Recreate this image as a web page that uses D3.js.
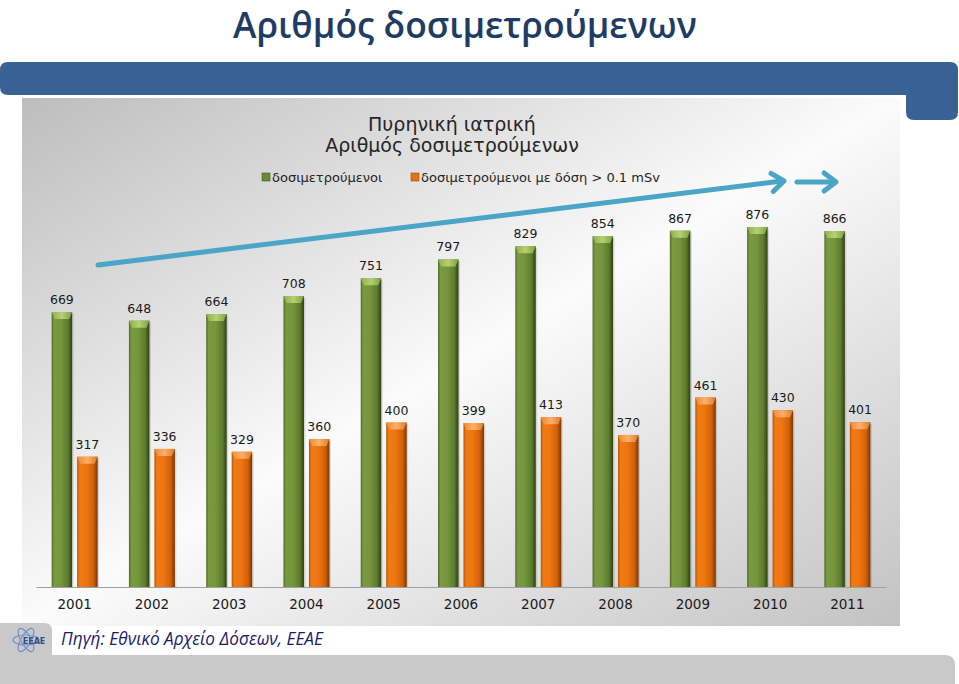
<!DOCTYPE html>
<html><head><meta charset="utf-8">
<script src="https://cdn.jsdelivr.net/npm/d3@7/dist/d3.min.js"></script>
<style>body{margin:0;background:#fff}svg{display:block}</style>
</head><body>
<svg id="c" width="959" height="684"></svg>
<script>
// ---- data ----
const years = ["2001","2002","2003","2004","2005","2006","2007","2008","2009","2010","2011"];
const measured = [669, 648, 664, 708, 751, 797, 829, 854, 867, 876, 866];
const measuredAbove01 = [317, 336, 329, 360, 400, 399, 413, 370, 461, 430, 401];
const seriesNames = ["δοσιμετρούμενοι", "δοσιμετρούμενοι με δόση > 0.1 mSv"];
const pageTitle = "Αριθμός δοσιμετρούμενων";
const chartTitle = ["Πυρηνική ιατρική", "Αριθμός δοσιμετρούμενων"];
const sourceText = "Πηγή: Εθνικό Αρχείο Δόσεων, ΕΕΑΕ";
const logoText = "ΕΕΑΕ";

const svg = d3.select("#c");
const defs = svg.append("defs");

function fitText(sel, w) {
  const cur = sel.node().getComputedTextLength();
  const fs = parseFloat(sel.attr("font-size"));
  sel.attr("font-size", (fs * w / cur).toFixed(2));
}

// header bar
svg.append("path")
  .attr("d", "M0,70 Q0,62 8,62 L950,62 Q958,62 958,70 L958,112 Q958,120 950,120 L914,120 Q906,120 906,112 L906,95 L8,95 Q0,95 0,87 Z")
  .attr("fill", "#3a6193");

// page title
const pt = svg.append("text").attr("x", 465).attr("y", 38).attr("text-anchor", "middle")
  .attr("font-family", "Open Sans").attr("font-weight", 600).attr("font-size", 34)
  .attr("fill", "#1f3c64").text(pageTitle);
fitText(pt, 464);

// chart panel
const pg = defs.append("linearGradient").attr("id", "panel").attr("x1", 0).attr("y1", 0).attr("x2", 1).attr("y2", 1);
pg.append("stop").attr("offset", 0).attr("stop-color", "#bdbdbd");
pg.append("stop").attr("offset", 0.5).attr("stop-color", "#fbfbfb");
pg.append("stop").attr("offset", 1).attr("stop-color", "#c2c2c2");
svg.append("rect").attr("x", 22).attr("y", 98).attr("width", 878).attr("height", 528).attr("fill", "url(#panel)");

// footer
svg.append("path")
  .attr("d", "M0,623 L44,623 Q52,623 52,631 L52,655 L945,655 Q955,655 955,665 L955,690 L0,690 Z")
  .attr("fill", "#c9c9c9");
// logo
const lg = svg.append("g").attr("transform", "translate(26,640)");
[0, 60, 120].forEach(a => lg.append("ellipse").attr("rx", 13).attr("ry", 5)
  .attr("transform", `rotate(${a})`).attr("fill", "none").attr("stroke", "#6f92c6").attr("stroke-width", 1.2));
lg.append("text").attr("x", 8).attr("y", 4).attr("text-anchor", "middle").attr("font-family", "DejaVu Sans")
  .attr("font-weight", "bold").attr("font-size", 8).attr("fill", "#2b4f8f").text(logoText);
const st = svg.append("text").attr("x", 61).attr("y", 645).attr("font-family", "Open Sans").attr("font-style", "italic")
  .attr("font-size", 17).attr("fill", "#1b1b6e").text(sourceText);
fitText(st, 262);

// chart title
chartTitle.forEach((t, i) => {
  svg.append("text").attr("x", 452).attr("y", 131 + i * 21).attr("text-anchor", "middle")
    .attr("font-family", "DejaVu Sans").attr("font-size", 19).attr("fill", "#262626").text(t);
});

// legend
const legendColors = ["#6b8a37", "#e27418"];
const legendX = [262, 411];
seriesNames.forEach((n, i) => {
  svg.append("rect").attr("x", legendX[i]).attr("y", 173).attr("width", 8).attr("height", 8).attr("fill", legendColors[i])
    .attr("stroke", i ? "#a04a0a" : "#44591f").attr("stroke-width", 0.6);
  svg.append("text").attr("x", legendX[i] + 10).attr("y", 182).attr("font-family", "DejaVu Sans")
    .attr("font-size", 13).attr("fill", "#262626").text(n);
});

// scales
const x = d3.scaleBand().domain(years).range([36, 886]).padding(0);
const x1 = d3.scaleBand().domain([0, 1]).range([0, x.bandwidth()]).paddingInner(0.196).paddingOuter(0.614);
const y = d3.scaleLinear().domain([0, 1000]).range([587, 176]);

// gradients for bars
function barGrad(id, stops) {
  const g = defs.append("linearGradient").attr("id", id).attr("x1", 0).attr("x2", 1).attr("y1", 0).attr("y2", 0);
  stops.forEach(s => g.append("stop").attr("offset", s[0]).attr("stop-color", s[1]));
}
barGrad("g0", [[0, "#4f6b25"], [0.12, "#7a9a40"], [0.45, "#76963d"], [0.8, "#5d7b2d"], [1, "#2e3f12"]]);
barGrad("g1", [[0, "#b35508"], [0.12, "#f07a14"], [0.45, "#ee7611"], [0.8, "#cf600a"], [1, "#7a3603"]]);
barGrad("t0", [[0, "#8fb04c"], [0.5, "#b5d170"], [1, "#7f9f42"]]);
barGrad("t1", [[0, "#f08a32"], [0.5, "#fbb06a"], [1, "#e07a22"]]);

const series = [measured, measuredAbove01];
const plot = svg.append("g");
series.forEach((vals, si) => {
  const g = plot.append("g");
  years.forEach((yr, i) => {
    const bx = x(yr) + x1(si), bw = x1.bandwidth();
    const top = y(vals[i]), bot = y(0);
    g.append("rect").attr("x", bx + 1.5).attr("y", top + 1.5).attr("width", bw).attr("height", bot - top - 1.5)
      .attr("fill", "#000").attr("opacity", 0.12);
    g.append("rect").attr("x", bx).attr("y", top).attr("width", bw).attr("height", bot - top).attr("fill", `url(#g${si})`);
    g.append("path").attr("d", `M${bx},${top} L${bx + bw},${top} L${bx + bw - 3},${top + 7} L${bx + 3},${top + 7} Z`)
      .attr("fill", `url(#t${si})`);
    g.append("text").attr("x", bx + bw / 2).attr("y", top - 8).attr("text-anchor", "middle")
      .attr("font-family", "DejaVu Sans").attr("font-size", 12.5).attr("fill", "#1a1a1a").text(vals[i]);
  });
});

// axis
const ax = svg.append("g").attr("transform", `translate(0,${y(0)})`).call(d3.axisBottom(x).tickSize(0).tickPadding(12));
ax.select(".domain").attr("stroke", "#a0a0a0").attr("stroke-width", 1.2);
ax.selectAll("text").attr("font-family", "DejaVu Sans").attr("font-size", 13.5).attr("fill", "#1a1a1a");

// trend arrows (annotation)
const arrowColor = "#4aa5c6";
function arrow(x0, y0, x1_, y1_) {
  const a = Math.atan2(y1_ - y0, x1_ - x0), L = 15, sp = 0.65;
  const g = svg.append("g").attr("fill", "none").attr("stroke", arrowColor).attr("stroke-width", 5).attr("stroke-linecap", "round").attr("stroke-linejoin", "round");
  g.append("path").attr("d", `M${x0},${y0} L${x1_ - 2},${y1_}`);
  g.append("path").attr("d", `M${x1_ - L * Math.cos(a - sp)},${y1_ - L * Math.sin(a - sp)} L${x1_},${y1_} L${x1_ - L * Math.cos(a + sp)},${y1_ - L * Math.sin(a + sp)}`);
}
arrow(98, 265, 784, 181);
arrow(797, 182, 836, 182);
</script>
</body></html>
